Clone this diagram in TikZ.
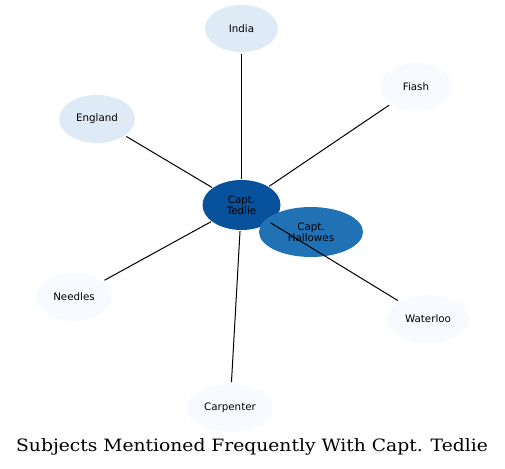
\documentclass[tikz,border=0pt]{standalone}
\usepackage{fontspec}
\setmainfont{DejaVu Sans}
\newfontfamily\titlefont{DejaVu Serif}
\usetikzlibrary{shapes.geometric}
\definecolor{cdark}{HTML}{08519C}
\definecolor{cmid}{HTML}{2171B5}
\definecolor{clight}{HTML}{DEEBF7}
\definecolor{cpale}{HTML}{F7FBFF}
\tikzset{
  blob/.style={ellipse, inner sep=0pt, outer sep=0pt, draw=none, align=center,
    font=\fontsize{10.3}{11}\selectfont},
  link/.style={draw=black, line width=1pt, shorten <=1pt, shorten >=2pt}
}
\begin{document}
\begin{tikzpicture}[x=1pt,y=-1pt]
\useasboundingbox (0,0) rectangle (505,468);
\node[blob, fill=cdark, minimum width=78pt, minimum height=50pt] (tedlie) at (241.5,205) {Capt.\\Tedlie};
\node[blob, fill=cmid, minimum width=104pt, minimum height=50pt] (hallowes) at (311,232) {Capt.\\Hallowes};
\node[blob, fill=clight, minimum width=73pt, minimum height=47pt] (india) at (241.5,28.5) {India};
\node[blob, fill=clight, minimum width=76pt, minimum height=48pt] (england) at (97,119) {England};
\node[blob, fill=cpale, minimum width=72pt, minimum height=48pt] (fiash) at (416,87) {Fiash};
\node[blob, fill=cpale, minimum width=76pt, minimum height=48pt] (needles) at (74,297) {Needles};
\node[blob, fill=cpale, minimum width=82pt, minimum height=48pt] (waterloo) at (428,319) {Waterloo};
\node[blob, fill=cpale, minimum width=86pt, minimum height=48pt] (carpenter) at (230,408) {Carpenter};
\draw[link] (tedlie) -- (india);
\draw[link] (tedlie) -- (england);
\draw[link] (tedlie) -- (fiash);
\draw[link] (tedlie) -- (needles);
\draw[link] (tedlie) -- (waterloo);
\draw[link] (tedlie) -- (carpenter);
\node[anchor=base, inner sep=0pt, font=\titlefont\fontsize{17}{18}\selectfont] (title) at (252,451.5) {\scalebox{1.1}[1]{Subjects Mentioned Frequently With Capt. Tedlie}};
\end{tikzpicture}
\end{document}
